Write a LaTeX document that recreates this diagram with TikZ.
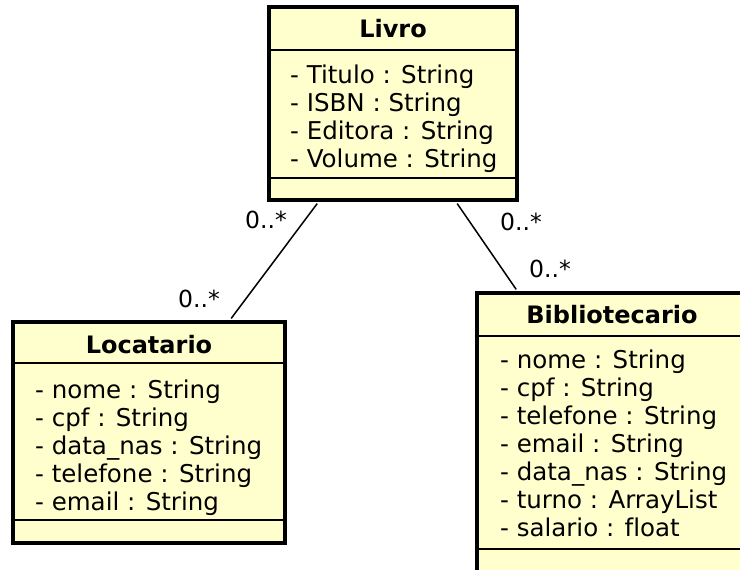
\documentclass[tikz,border=0pt]{standalone}
\usepackage{fontspec}
\setmainfont[Ligatures=NoCommon]{DejaVu Sans}
\usetikzlibrary{calc}
\definecolor{classfill}{RGB}{255,255,206}
\tikzset{
  classbox/.style={draw=black, line width=3.6pt, fill=classfill, rectangle, inner sep=0pt},
  sepline/.style={line width=1.5pt},
  attr/.style={anchor=base west, inner sep=0pt, font=\fontsize{24.5}{28}\selectfont},
  ctitle/.style={anchor=base, inner sep=0pt, font=\fontsize{24}{28}\selectfont\bfseries},
  mult/.style={anchor=base, inner sep=0pt, font=\fontsize{23.5}{28}\selectfont},
  assoc/.style={line width=1.5pt}
}
\begin{document}
\begin{tikzpicture}[x=1pt,y=-1pt]
\useasboundingbox (0,0) rectangle (740,570);
\clip (0,0) rectangle (740,570);
\fill[white] (0,0) rectangle (740,570);

% Livro
\node[classbox, minimum width=248pt, minimum height=193pt] (livro) at (393,103.5) {};
\draw[sepline] (270.5,50) -- (515.5,50);
\draw[sepline] (270.5,178) -- (515.5,178);
\node[ctitle] (livroT) at (393,37) {Livro};
\node[attr] (l1) at (290,83) {- Titulo : String};
\node[attr] (l2) at (290,111) {- ISBN : String};
\node[attr] (l3) at (290,139) {- Editora : String};
\node[attr] (l4) at (290,167) {- Volume : String};

% Locatario
\node[classbox, minimum width=272pt, minimum height=221pt] (loc) at (149,432.5) {};
\draw[sepline] (14.5,363) -- (283.5,363);
\draw[sepline] (14.5,520) -- (283.5,520);
\node[ctitle] (locT) at (149,353) {Locatario};
\node[attr] (a1) at (35,398) {- nome : String};
\node[attr] (a2) at (35,426) {- cpf : String};
\node[attr] (a3) at (35,454) {- data\_nas : String};
\node[attr] (a4) at (35,482) {- telefone : String};
\node[attr] (a5) at (35,510) {- email : String};

% Bibliotecario
\node[classbox, minimum width=270pt, minimum height=280pt] (bib) at (612,433) {};
\draw[sepline] (478.5,336) -- (745,336);
\draw[sepline] (478.5,549) -- (745,549);
\node[ctitle] (bibT) at (612,323) {Bibliotecario};
\node[attr] (b1) at (500,368) {- nome : String};
\node[attr] (b2) at (500,396) {- cpf : String};
\node[attr] (b3) at (500,424) {- telefone : String};
\node[attr] (b4) at (500,452) {- email : String};
\node[attr] (b5) at (500,480) {- data\_nas : String};
\node[attr] (b6) at (500,508) {- turno : ArrayList};
\node[attr] (b7) at (500,536) {- salario : float};

% associations
\draw[assoc] ($(livro.south west)+(50,1.8)$) -- ($(loc.north west)+(220,-1.8)$);
\draw[assoc] ($(livro.south west)+(190,1.8)$) -- ($(bib.north west)+(41,-1.8)$);

% multiplicities
\node[mult] (m1) at (266,228) {0..*};
\node[mult] (m2) at (199,307) {0..*};
\node[mult] (m3) at (521,230) {0..*};
\node[mult] (m4) at (550,277) {0..*};
\end{tikzpicture}
\end{document}
